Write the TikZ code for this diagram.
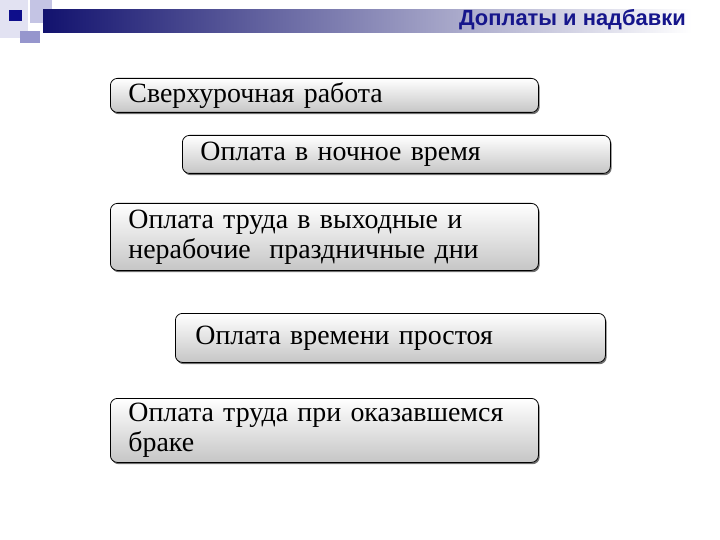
\documentclass[tikz,border=0pt]{standalone}
\usepackage{fontspec}
\setmainfont{Liberation Serif}
\newfontfamily\headfont{Liberation Sans}
\usetikzlibrary{shadows}
\definecolor{headblue}{RGB}{22,22,140}
\definecolor{barnavy}{RGB}{18,18,110}
\definecolor{paleblue}{RGB}{226,226,242}
\definecolor{midblue}{RGB}{196,196,228}
\definecolor{deepblue}{RGB}{150,150,205}
\tikzset{
  plate/.style={draw=black, line width=0.8bp, rounded corners=7bp,
    top color=white, bottom color=gray!45,
    drop shadow={shadow xshift=1.2bp, shadow yshift=-1.8bp, fill=black!70, opacity=0.8},
    anchor=north west, minimum width=428bp, text width=392bp, inner xsep=18bp, inner ysep=0pt,
    align=left, font=\fontsize{28}{30}\selectfont},
  headtitle/.style={anchor=base east, inner sep=0pt, text=headblue,
    font=\headfont\bfseries\fontsize{22}{24}\selectfont}
}
\begin{document}
\begin{tikzpicture}[x=1bp,y=-1bp]
\useasboundingbox (0,0) rectangle (720,540);
\fill[paleblue] (0,0) rectangle (28,38);
\fill[midblue] (30,0) rectangle (52,23);
\fill[deepblue] (20,31) rectangle (40,43);
\shade[shading=axis, left color=barnavy, right color=white, middle color=barnavy!50] (43,10) rectangle (692,33);
\fill[barnavy!80!blue] (9,10) rectangle (22,21);
\node[headtitle] (title) at (686,26) {Доплаты и надбавки};
\node[plate, minimum height=34bp] (overtime) at (110,78) {Сверхурочная работа};
\node[plate, minimum height=38bp, inner xsep=18bp] (night) at (182,135) {Оплата в ночное время};
\node[plate, minimum height=67bp] (holiday) at (110,203) {Оплата труда в выходные и\\нерабочие\ \ праздничные дни};
\node[plate, minimum height=49bp, text width=390bp, inner xsep=20bp] (idle) at (175,313) {Оплата времени простоя};
\node[plate, minimum height=64bp] (defect) at (110,398) {Оплата труда при оказавшемся\\браке};
\end{tikzpicture}
\end{document}
